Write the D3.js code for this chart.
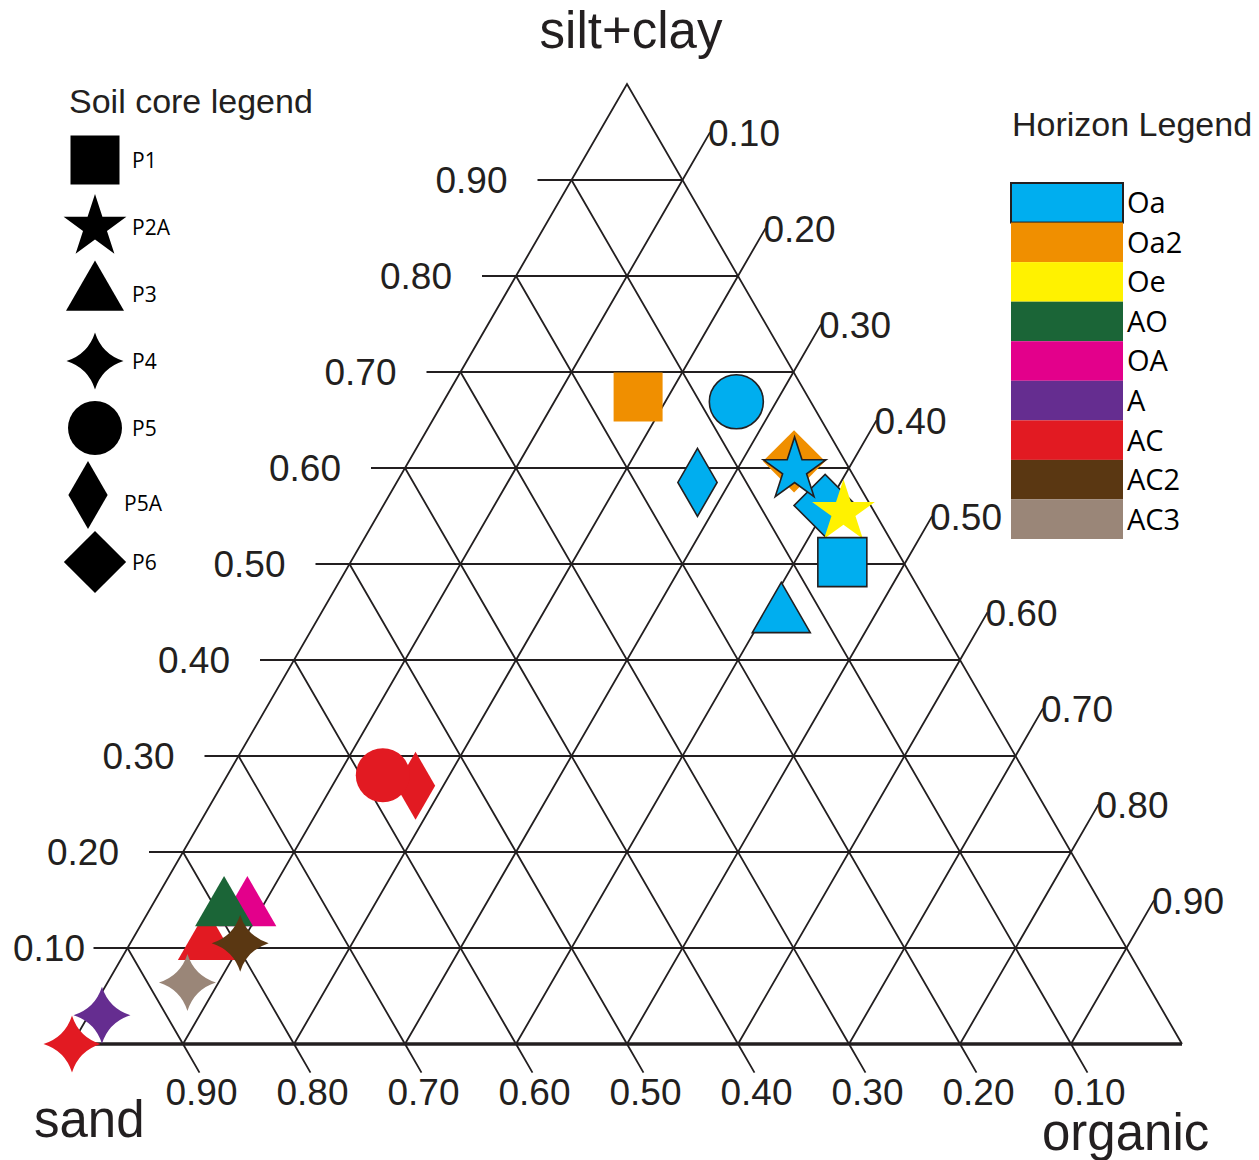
<!DOCTYPE html>
<html>
<head>
<meta charset="utf-8">
<script src="https://cdn.jsdelivr.net/npm/d3@7"></script>
<style>
  body { margin: 0; background: #fff; }
  svg { display: block; }
</style>
</head>
<body>
<svg id="chart" width="1259" height="1160"></svg>
<script>
// ---- Axis ticks ----
const siltClayTicks = [0.9, 0.8, 0.7, 0.6, 0.5, 0.4, 0.3, 0.2, 0.1];
const sandTicks     = [0.9, 0.8, 0.7, 0.6, 0.5, 0.4, 0.3, 0.2, 0.1];
const organicTicks  = [0.1, 0.2, 0.3, 0.4, 0.5, 0.6, 0.7, 0.8, 0.9];

// ---- Legends ----
const cores    = ["P1", "P2A", "P3", "P4", "P5", "P5A", "P6"];
const horizons = ["Oa", "Oa2", "Oe", "AO", "OA", "A", "AC", "AC2", "AC3"];
const horizonColors = ["#00aeef", "#f08f00", "#fff200", "#1b6537", "#e3008b", "#652d90", "#e21a22", "#5a3712", "#9a8678"];

// ---- Samples (fractions of sand, silt+clay, organic), in drawing order ----
const sampleCore     = ["P3", "P3", "P3", "P4", "P4", "P4", "P4", "P5A", "P5", "P1", "P5", "P5A", "P6", "P6", "P2A", "P2A", "P1", "P3"];
const sampleHorizon  = ["OA", "AC", "AO", "AC2", "AC3", "A", "AC", "AC", "AC", "Oa2", "Oa", "Oa", "Oa2", "Oa", "Oa", "Oe", "Oa", "Oa"];
const sampleSand     = [0.772, 0.826, 0.793, 0.796, 0.864, 0.958, 1.000, 0.556, 0.580, 0.153, 0.067, 0.144, 0.046, 0.041, 0.050, 0.028, 0.055, 0.138];
const sampleSiltClay = [0.140, 0.105, 0.140, 0.105, 0.064, 0.030, 0.000, 0.269, 0.280, 0.674, 0.669, 0.585, 0.607, 0.561, 0.598, 0.554, 0.502, 0.446];
const sampleOrganic  = [0.088, 0.069, 0.067, 0.099, 0.072, 0.012, 0.000, 0.175, 0.140, 0.173, 0.264, 0.271, 0.347, 0.398, 0.352, 0.418, 0.443, 0.416];

const svg = d3.select("#chart");
const ink = "#231f20";
const numFont = "'Liberation Sans', Arial, sans-serif";
const keyFont = "'Open Sans', 'Noto Sans', sans-serif";

// Ternary projection: silt+clay goes to the top vertex, organic to the bottom-right one
const xScale = d3.scaleLinear().domain([0, 1]).range([72, 1182]);
const yScale = d3.scaleLinear().domain([0, 1]).range([1044, 84]);
const project = (sand, siltClay, organic) => [xScale(organic + siltClay / 2), yScale(siltClay)];

const fmt = d3.format(".2f");
const line = d3.line();
const grid = svg.append("g").attr("fill", "none").attr("stroke", ink).attr("stroke-width", 1.8);

const s60 = Math.sin(Math.PI / 3), c60 = 0.5;

// Constant silt+clay: horizontal lines, tick extends to the left
siltClayTicks.forEach(k => {
  const a = project(1 - k, k, 0), b = project(0, k, 1 - k);
  grid.append("path").attr("d", line([[a[0] - 34, a[1]], b]));
  svg.append("text")
    .attr("x", Math.max(a[0] - 64, 85)).attr("y", a[1])
    .attr("dy", "0.36em").attr("text-anchor", "end")
    .attr("font-family", numFont).attr("font-size", 37).attr("fill", ink)
    .text(fmt(k));
});

// Constant sand: parallel to the right side, tick extends below the base
sandTicks.forEach(k => {
  const a = project(k, 1 - k, 0), b = project(k, 0, 1 - k);
  const e = [b[0] + c60 * 33, b[1] + s60 * 33];
  grid.append("path").attr("d", line([a, b, e]));
  svg.append("text")
    .attr("x", e[0] + 2).attr("y", 1105)
    .attr("text-anchor", "middle")
    .attr("font-family", numFont).attr("font-size", 37).attr("fill", ink)
    .text(fmt(k));
});

// Constant organic: parallel to the left side, tick extends beyond the right side
organicTicks.forEach(k => {
  const a = project(1 - k, 0, k), b = project(0, 1 - k, k);
  const e = [b[0] + c60 * 55, b[1] - s60 * 55];
  grid.append("path").attr("d", line([a, b, e]));
  svg.append("text")
    .attr("x", e[0] - 2).attr("y", e[1])
    .attr("dy", "0.36em")
    .attr("font-family", numFont).attr("font-size", 37).attr("fill", ink)
    .text(fmt(k));
});

// Triangle outline
const vSand = project(1, 0, 0), vSilt = project(0, 1, 0), vOrg = project(0, 0, 1);
grid.append("path").attr("d", line([vSand, vSilt, vOrg]));
grid.append("path").attr("d", line([vSand, vOrg])).attr("stroke-width", 3.4);

// Axis titles
svg.append("text").attr("x", 631).attr("y", 48).attr("text-anchor", "middle")
  .attr("font-family", numFont).attr("font-size", 51).attr("fill", ink).text("silt+clay");
svg.append("text").attr("x", 34).attr("y", 1137)
  .attr("font-family", numFont).attr("font-size", 51).attr("fill", ink).text("sand");
svg.append("text").attr("x", 1042).attr("y", 1150)
  .attr("font-family", numFont).attr("font-size", 51).attr("fill", ink).text("organic");

// ---- Marker shapes per soil core ----
const symbolSparkle = {
  draw(ctx, size) {
    const r = Math.sqrt(size), rc = r * 0.34;
    const tips = [[0, -r], [r, 0], [0, r], [-r, 0]];
    ctx.moveTo(0, -r);
    for (let i = 0; i < 4; i++) {
      const a = -Math.PI / 4 + i * Math.PI / 2;
      const n = tips[(i + 1) % 4];
      ctx.quadraticCurveTo(rc * Math.cos(a), rc * Math.sin(a), n[0], n[1]);
    }
    ctx.closePath();
  }
};
const coreShape = {
  P1:  { type: d3.symbolSquare,   size: 49 * 49, rotate: 0 },
  P2A: { type: d3.symbolStar,     size: 33 * 33 / 0.8908, rotate: 0 },
  P3:  { type: d3.symbolTriangle, size: 1456, rotate: 0 },
  P4:  { type: symbolSparkle,     size: 28.5 * 28.5, rotate: 0 },
  P5:  { type: d3.symbolCircle,   size: Math.PI * 27 * 27, rotate: 0 },
  P5A: { type: d3.symbolDiamond,  size: 34 * 34 * 2 / Math.sqrt(3), rotate: 0 },
  P6:  { type: d3.symbolSquare,   size: 44 * 44, rotate: 45 }
};
const symbolPath = core => d3.symbol().type(coreShape[core].type).size(coreShape[core].size)();
const color = d3.scaleOrdinal().domain(horizons).range(horizonColors);

// ---- Sample markers ----
const samples = sampleCore.map((core, i) => ({
  core, horizon: sampleHorizon[i],
  pos: project(sampleSand[i], sampleSiltClay[i], sampleOrganic[i])
}));
svg.append("g").selectAll("path").data(samples).join("path")
  .attr("d", d => symbolPath(d.core))
  .attr("transform", d => `translate(${d.pos[0]},${d.pos[1]}) rotate(${coreShape[d.core].rotate})`)
  .attr("fill", d => color(d.horizon))
  .attr("stroke", d => d.horizon === "Oa" ? ink : "none")
  .attr("stroke-width", 1.6)
  .attr("stroke-linejoin", "miter");

// ---- Soil core legend ----
svg.append("text").attr("x", 69).attr("y", 113)
  .attr("font-family", numFont).attr("font-size", 34).attr("fill", ink).text("Soil core legend");
const coreY = d3.scalePoint().domain(cores).range([160, 562]);
const coreKey = svg.append("g").selectAll("g").data(cores).join("g")
  .attr("transform", d => `translate(0,${coreY(d)})`);
coreKey.append("path")
  .attr("d", d => symbolPath(d))
  .attr("transform", d => `translate(${d === "P5A" ? 88 : 95},0) rotate(${coreShape[d].rotate})`)
  .attr("fill", "#000");
coreKey.append("text")
  .attr("x", d => d === "P5A" ? 124 : 132).attr("y", d => d === "P5A" ? 8 : 0).attr("dy", "0.36em")
  .attr("font-family", keyFont).attr("font-size", 21).attr("fill", "#000")
  .text(d => d);

// ---- Horizon legend ----
svg.append("text").attr("x", 1012).attr("y", 136)
  .attr("font-family", numFont).attr("font-size", 34).attr("fill", ink).text("Horizon Legend");
const horizonY = d3.scaleBand().domain(horizons).range([183, 539]);
const horizonKey = svg.append("g").selectAll("g").data(horizons).join("g")
  .attr("transform", d => `translate(0,${horizonY(d)})`);
horizonKey.append("rect")
  .attr("x", 1011).attr("width", 112).attr("height", horizonY.bandwidth())
  .attr("fill", d => color(d))
  .attr("stroke", d => d === "Oa" ? ink : "none")
  .attr("stroke-width", 2);
horizonKey.append("text")
  .attr("x", 1127).attr("y", horizonY.bandwidth() / 2).attr("dy", "0.36em")
  .attr("font-family", keyFont).attr("font-size", 29).attr("fill", "#000")
  .text(d => d);
</script>
</body>
</html>
